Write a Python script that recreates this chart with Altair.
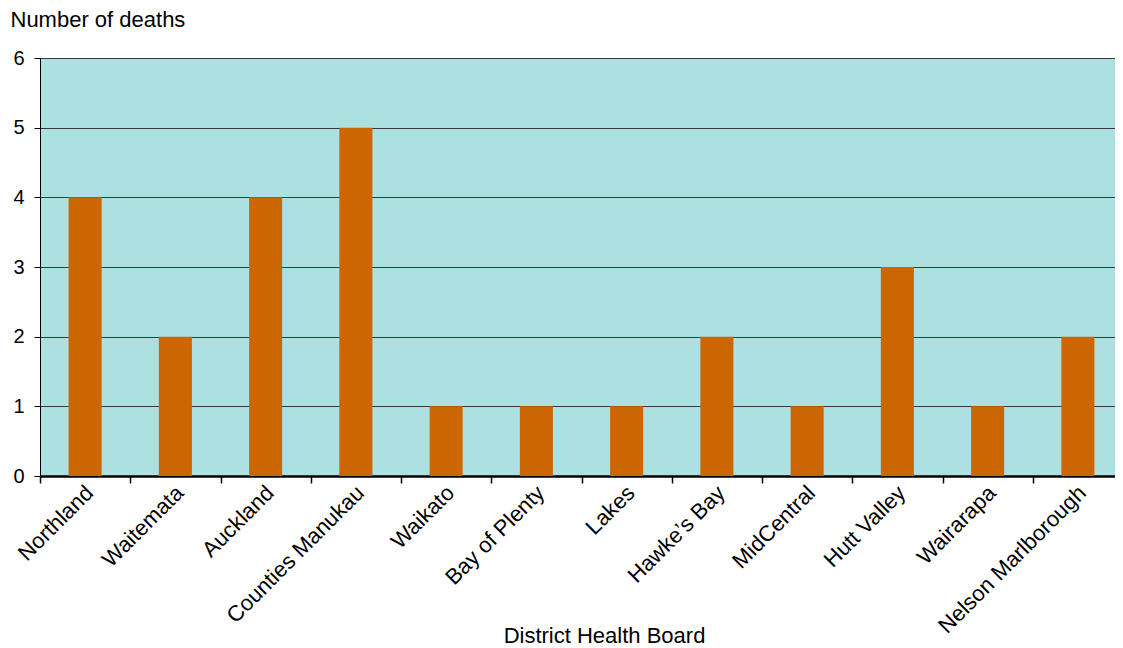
import altair as alt
import pandas as pd

boards = ["Northland", "Waitemata", "Auckland", "Counties Manukau", "Waikato",
          "Bay of Plenty", "Lakes", "Hawke\u2019s Bay", "MidCentral", "Hutt Valley",
          "Wairarapa", "Nelson Marlborough"]
deaths = [4, 2, 4, 5, 1, 1, 1, 2, 1, 3, 1, 2]

df = pd.DataFrame({"board": boards, "deaths": deaths})

FONT = "Liberation Sans"

chart = alt.Chart(df).mark_bar(color="#CC6600", width=alt.RelativeBandSize(0.366)).encode(
    x=alt.X("board:N", sort=boards, title="District Health Board",
            scale=alt.Scale(paddingInner=0, paddingOuter=0),
            axis=alt.Axis(labelAngle=-45, labelAlign="right", labelBaseline="middle",
                          labelFontSize=22, labelFont=FONT, labelColor="black",
                          labelPadding=6, labelOffset=4,
                          tickBand="extent", tickSize=7, tickColor="black", tickWidth=1.5,
                          domainColor="black", domainWidth=2.5,
                          titleFontSize=22, titleFont=FONT, titleFontWeight="normal",
                          titleColor="black", titleX=564, titleY=166,
                          titleBaseline="alphabetic", titleAnchor="middle",
                          labelLimit=300)),
    y=alt.Y("deaths:Q", title="Number of deaths",
            scale=alt.Scale(domain=[0, 6], nice=False),
            axis=alt.Axis(values=[0, 1, 2, 3, 4, 5, 6], grid=True,
                          gridColor="#3a3a3a", gridWidth=1,
                          labelFontSize=20, labelFont=FONT, labelColor="black",
                          labelPadding=10, tickSize=6, tickColor="black",
                          domainColor="black", domainWidth=1,
                          titleAngle=0, titleAlign="left", titleBaseline="alphabetic",
                          titleX=-30, titleY=-32, titleFontSize=22, titleFont=FONT,
                          titleFontWeight="normal", titleColor="black")),
).properties(
    width=1083, height=418,
    autosize=alt.AutoSizeParams(type="none"),
    padding={"left": 32, "top": 50, "right": -8, "bottom": 172},
).configure_view(
    fill="#ADE0E0", stroke=None
)

chart.save("out.html", embed_options={"renderer": "svg", "actions": False})
